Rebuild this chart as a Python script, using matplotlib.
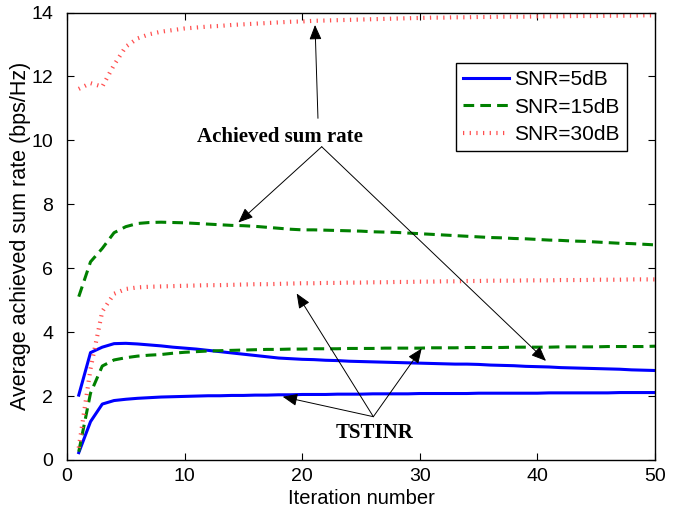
import matplotlib
matplotlib.use("Agg")
import matplotlib.pyplot as plt

# iteration axis
iters = list(range(1, 51))

# achieved sum rate (upper curves)
rate_30db = [11.61, 11.79, 11.68, 12.36, 12.93, 13.19, 13.32, 13.40, 13.45, 13.50,
             13.53, 13.56, 13.58, 13.61, 13.63, 13.65, 13.67, 13.69, 13.71, 13.72,
             13.74, 13.75, 13.76, 13.77, 13.78, 13.79, 13.80, 13.81, 13.82, 13.83,
             13.84, 13.84, 13.85, 13.85, 13.86, 13.86, 13.87, 13.87, 13.87, 13.88,
             13.88, 13.88, 13.89, 13.89, 13.89, 13.90, 13.90, 13.90, 13.91, 13.91]
rate_15db = [5.11, 6.20, 6.62, 7.11, 7.30, 7.40, 7.43, 7.44, 7.43, 7.42,
             7.40, 7.38, 7.36, 7.34, 7.33, 7.31, 7.28, 7.25, 7.22, 7.20,
             7.20, 7.19, 7.18, 7.17, 7.16, 7.14, 7.13, 7.12, 7.10, 7.08,
             7.06, 7.04, 7.02, 7.00, 6.98, 6.96, 6.95, 6.93, 6.92, 6.90,
             6.88, 6.87, 6.85, 6.84, 6.82, 6.80, 6.78, 6.77, 6.75, 6.73]
rate_5db = [2.03, 3.36, 3.53, 3.64, 3.65, 3.63, 3.60, 3.57, 3.53, 3.50,
            3.47, 3.43, 3.39, 3.35, 3.31, 3.27, 3.23, 3.19, 3.17, 3.15,
            3.14, 3.12, 3.11, 3.09, 3.08, 3.07, 3.06, 3.05, 3.04, 3.03,
            3.02, 3.01, 3.00, 3.00, 2.99, 2.97, 2.96, 2.95, 2.93, 2.92,
            2.91, 2.89, 2.88, 2.87, 2.86, 2.85, 2.84, 2.82, 2.81, 2.80]

# TSTINR (lower curves)
tst_30db = [0.38, 2.85, 4.65, 5.20, 5.35, 5.40, 5.42, 5.43, 5.44, 5.45,
            5.46, 5.47, 5.47, 5.48, 5.49, 5.50, 5.50, 5.51, 5.52, 5.53,
            5.53, 5.54, 5.54, 5.55, 5.55, 5.56, 5.56, 5.57, 5.57, 5.58,
            5.58, 5.59, 5.59, 5.60, 5.60, 5.61, 5.61, 5.61, 5.62, 5.62,
            5.62, 5.63, 5.63, 5.63, 5.64, 5.64, 5.64, 5.65, 5.65, 5.65]
tst_15db = [0.26, 2.09, 2.94, 3.13, 3.20, 3.25, 3.28, 3.30, 3.34, 3.37,
            3.39, 3.41, 3.42, 3.43, 3.44, 3.45, 3.46, 3.46, 3.47, 3.47,
            3.48, 3.48, 3.48, 3.49, 3.49, 3.49, 3.50, 3.50, 3.50, 3.50,
            3.51, 3.51, 3.51, 3.52, 3.52, 3.52, 3.52, 3.53, 3.53, 3.53,
            3.53, 3.54, 3.54, 3.54, 3.54, 3.55, 3.55, 3.55, 3.55, 3.56]
tst_5db = [0.23, 1.20, 1.75, 1.86, 1.90, 1.93, 1.95, 1.97, 1.98, 1.99,
           2.00, 2.01, 2.01, 2.02, 2.02, 2.03, 2.03, 2.04, 2.04, 2.05,
           2.05, 2.05, 2.06, 2.06, 2.06, 2.07, 2.07, 2.07, 2.07, 2.08,
           2.08, 2.08, 2.08, 2.08, 2.09, 2.09, 2.09, 2.09, 2.09, 2.09,
           2.10, 2.10, 2.10, 2.10, 2.10, 2.10, 2.11, 2.11, 2.11, 2.11]

labels = ["SNR=5dB", "SNR=15dB", "SNR=30dB"]

# annotation anchors (text position, arrow start, arrow tips)
rate_text = (18.1, 9.96)
rate_start = [(21.34, 10.69), (21.66, 9.80), (21.66, 9.80)]
rate_tips = [(21.09, 13.61), (14.57, 7.43), (40.73, 3.10)]
tst_text = (26.19, 0.68)
tst_start = (26.05, 1.355)
tst_tips = [(19.53, 5.21), (30.16, 3.49), (18.34, 1.98)]

plt.rcParams["font.family"] = ["Liberation Sans", "DejaVu Sans"]

fig = plt.figure(figsize=(6.85, 5.12), dpi=100)
ax = fig.add_axes([67 / 685, 1 - 460 / 512, 588 / 685, 447.5 / 512])

blue = "#0000ff"
green = "#008000"
red = "#ff5050"

ax.plot(iters, rate_5db, color=blue, lw=2.2, label=labels[0])
ax.plot(iters, rate_15db, color=green, lw=2.2, dashes=(3.5, 2.0), label=labels[1])
ax.plot(iters, rate_30db, color=red, lw=3.0, dashes=(0.3, 1.3),
        dash_capstyle="butt", label=labels[2])
ax.plot(iters, tst_5db, color=blue, lw=2.2)
ax.plot(iters, tst_15db, color=green, lw=2.2, dashes=(3.5, 2.0))
ax.plot(iters, tst_30db, color=red, lw=3.0, dashes=(0.3, 1.3), dash_capstyle="butt")

ax.set_xlim(0, 50)
ax.set_ylim(0, 14)
ax.set_xticks([0, 10, 20, 30, 40, 50])
ax.set_yticks([0, 2, 4, 6, 8, 10, 12, 14])
ax.tick_params(direction="in", top=True, right=True, length=5, width=0.8,
               labelsize=14)
ax.tick_params(axis="y", pad=10)
ax.tick_params(axis="x", pad=6)
for s in ax.spines.values():
    s.set_linewidth(1.0)

ax.set_xlabel("Iteration number", fontsize=14.5, labelpad=3)
ax.set_ylabel("Average achieved sum rate (bps/Hz)", fontsize=15.5, labelpad=0)

arrow = dict(arrowstyle="-|>,head_length=0.6,head_width=0.25", color="black",
             lw=0.7, shrinkA=0, shrinkB=0)
for st, tip in zip(rate_start, rate_tips):
    ax.annotate("", xy=tip, xytext=st, arrowprops=arrow, fontsize=15)
for tip in tst_tips:
    ax.annotate("", xy=tip, xytext=tst_start, arrowprops=arrow, fontsize=15)

ax.text(*rate_text, "Achieved sum rate", family="Liberation Serif",
        fontweight="bold", fontsize=15, ha="center", va="baseline")
ax.text(*tst_text, "TSTINR", family="Liberation Serif",
        fontweight="bold", fontsize=15, ha="center", va="baseline")

leg = ax.legend(loc="upper right", bbox_to_anchor=(0.952, 0.887), fontsize=15,
                fancybox=False, framealpha=1, edgecolor="black",
                handlelength=2.2, handletextpad=0.25, labelspacing=0.4,
                borderpad=0.35, borderaxespad=0)
leg.get_frame().set_linewidth(1.0)

fig.savefig("out.png", dpi=100)
